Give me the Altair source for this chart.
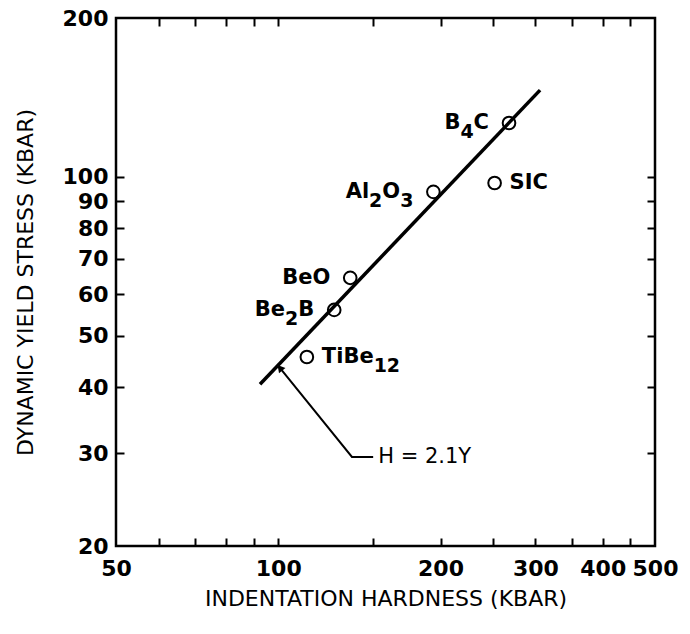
import altair as alt
import pandas as pd

# ---- data ----
# label segments: (text, is_subscript)
label_parts = [
    [("B", 0), ("4", 1), ("C", 0)],
    [("Al", 0), ("2", 1), ("O", 0), ("3", 1)],
    [("SIC", 0)],
    [("BeO", 0)],
    [("Be", 0), ("2", 1), ("B", 0)],
    [("TiBe", 0), ("12", 1)],
]
hardness = [268, 194, 252, 136, 127, 113]              # kbar
yield_stress = [126.5, 93.7, 97.4, 64.4, 56.0, 45.6]   # kbar
label_side = ["left", "left", "right", "left", "left", "right"]

fit_h = [92.5, 306]
fit_y = [40.5, 146]

arrow_h = [100.7, 137, 150]
arrow_y = [43.5, 29.5, 29.5]
arrow_order = [0, 1, 2]
eq_label = "H = 2.1Y"

x_tick_values = [60, 70, 80, 90, 100, 150, 200, 250, 300, 350, 400, 450]
x_label_values = [50, 100, 200, 300, 400, 500]
y_tick_values = [30, 40, 50, 60, 70, 80, 90, 100]
y_label_values = [20, 30, 40, 50, 60, 70, 80, 90, 100, 200]

x_title = "INDENTATION HARDNESS (KBAR)"
y_title = "DYNAMIC YIELD STRESS (KBAR)"

# ---- styling ----
W, H = 539, 528
FONT = "DejaVu Sans"
MAIN_FS, SUB_FS = 21, 19
SUB_DROP = 9
GAP_LEFT, GAP_RIGHT = 20, 15
# DejaVu Sans Bold advance widths (em)
CW = {"A": .774, "B": .762, "C": .734, "O": .850, "S": .720, "I": .372, "T": .682,
      "e": .678, "i": .343, "l": .343}
def text_w(s, fs):
    return sum(CW.get(c, .696) for c in s) * fs

xs = alt.Scale(type="log", domain=[50, 500], nice=False)
ys = alt.Scale(type="log", domain=[20, 200], nice=False)
X = lambda: alt.X("h:Q", scale=xs, axis=None)
Y = lambda: alt.Y("y:Q", scale=ys, axis=None)

# ---- tables ----
pts = pd.DataFrame({"h": hardness, "y": yield_stress})
fit = pd.DataFrame({"h": fit_h, "y": fit_y})
arrow = pd.DataFrame({"h": arrow_h, "y": arrow_y, "o": arrow_order})
tip = arrow.iloc[[0]]
eq = pd.DataFrame({"h": [arrow_h[-1]], "y": [arrow_y[-1]], "t": [eq_label]})

label_layers = []
for parts, h, y, side in zip(label_parts, hardness, yield_stress, label_side):
    widths = [text_w(t, SUB_FS if s else MAIN_FS) for t, s in parts]
    start = -GAP_LEFT - sum(widths) if side == "left" else GAP_RIGHT
    off = start
    for (t, s), w in zip(parts, widths):
        seg = pd.DataFrame({"h": [h], "y": [y], "t": [t]})
        label_layers.append(
            alt.Chart(seg).mark_text(
                align="left", baseline="middle", dx=off, dy=SUB_DROP if s else 0,
                fontSize=SUB_FS if s else MAIN_FS, fontWeight="bold", font=FONT,
                color="black").encode(x=X(), y=Y(), text="t:N")
        )
        off += w

lab_x_axis = alt.Axis(orient="bottom", values=x_label_values, ticks=False, domain=False,
                      grid=False, labelPadding=12, labelFontSize=22, labelFontWeight="bold",
                      labelColor="black", labelOverlap=False, labelFlush=False, format="d",
                      title=x_title, titleFontSize=22, titleFontWeight="normal",
                      titleColor="black", titleY=52, titleBaseline="middle", titleX=W / 2,
                      titleAlign="center")
lab_y_axis = alt.Axis(orient="left", values=y_label_values, ticks=False, domain=False,
                      grid=False, labelPadding=8, labelFontSize=22, labelFontWeight="bold",
                      labelColor="black", labelOverlap=False, labelFlush=False, format="d",
                      title=y_title, titleFontSize=22, titleFontWeight="normal",
                      titleColor="black", titleX=-91, titleY=H / 2, titleAngle=270,
                      titleBaseline="middle", titleAlign="center")

def tick_axis(orient, values, offset):
    return alt.Axis(orient=orient, values=values, labels=False, domain=False, grid=False,
                    ticks=True, tickSize=8, tickWidth=2, tickColor="black",
                    offset=offset, title=None)

points = alt.Chart(pts).mark_point(shape="circle", filled=False, stroke="black",
                                   strokeWidth=2, size=160, opacity=1).encode(
    x=alt.X("h:Q", scale=xs, axis=lab_x_axis),
    y=alt.Y("y:Q", scale=ys, axis=lab_y_axis),
)

line = alt.Chart(fit).mark_line(color="black", strokeWidth=3.5).encode(
    x=alt.X("h:Q", scale=xs, axis=tick_axis("top", x_tick_values, -H)),
    y=alt.Y("y:Q", scale=ys, axis=tick_axis("right", y_tick_values, -W)),
)

arrow_line = alt.Chart(arrow).mark_line(color="black", strokeWidth=2).encode(
    x=alt.X("h:Q", scale=xs, axis=tick_axis("bottom", x_tick_values, -H)),
    y=alt.Y("y:Q", scale=ys, axis=tick_axis("left", y_tick_values, -W)),
    order="o:Q",
)

head = alt.Chart(tip).mark_point(shape="triangle-up", filled=True, color="black",
                                 size=70, angle=320, opacity=1).encode(x=X(), y=Y())

eq_text = alt.Chart(eq).mark_text(align="left", baseline="middle", dx=5, fontSize=21,
                                  font=FONT, color="black").encode(x=X(), y=Y(), text="t:N")

chart = alt.layer(points, line, arrow_line, head, eq_text, *label_layers).resolve_axis(
    x="independent", y="independent"
).properties(
    width=W, height=H,
    autosize=alt.AutoSizeParams(type="none"),
    padding={"left": 116, "top": 18, "right": 35, "bottom": 88},
    background="white",
).configure_view(stroke="black", strokeWidth=2.5).configure_axis(
    labelFont=FONT, titleFont=FONT
)

chart.save("out.html", embed_options={"renderer": "svg", "actions": False})
